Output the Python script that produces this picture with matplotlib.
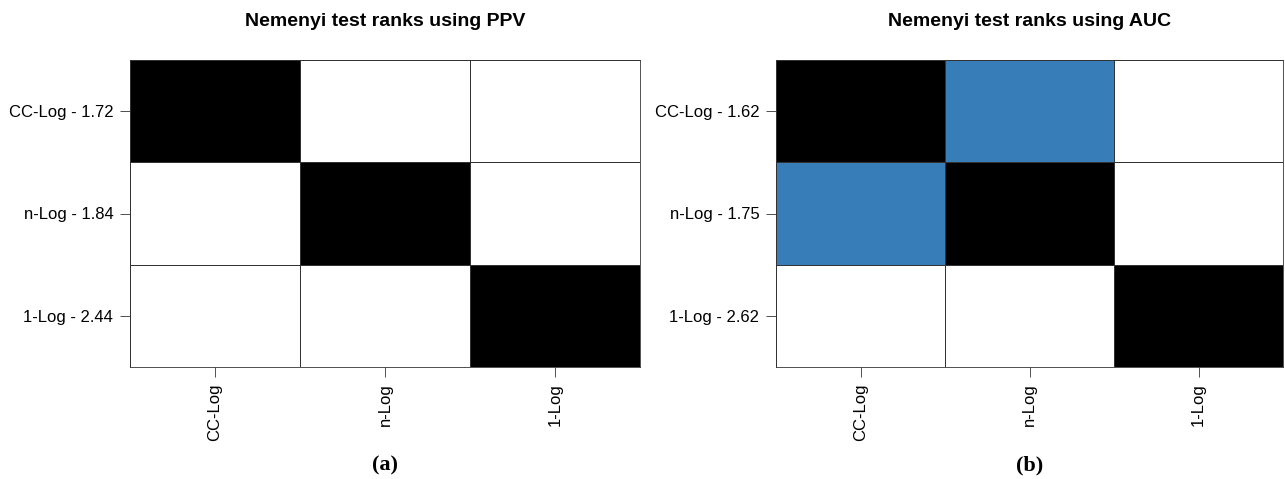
import numpy as np
import matplotlib.pyplot as plt
from matplotlib.colors import ListedColormap

# methods ordered by mean rank (top to bottom / left to right)
metodos = ["CC-Log", "n-Log", "1-Log"]
ranks_ppv = [1.72, 1.84, 2.44]
ranks_auc = [1.62, 1.75, 2.62]

# 0 = no significant difference, 1 = significant, 2 = same method
sig_ppv = np.array([[2, 0, 0],
                    [0, 2, 0],
                    [0, 0, 2]])
sig_auc = np.array([[2, 1, 0],
                    [1, 2, 0],
                    [0, 0, 2]])

titulos = ["Nemenyi test ranks using PPV", "Nemenyi test ranks using AUC"]
letras = ["(a)", "(b)"]

plt.rcParams['font.family'] = ['Liberation Sans', 'DejaVu Sans']
cmap = ListedColormap(["white", "#377EB8", "black"])

fig = plt.figure(figsize=(12.85, 4.79), dpi=100)
posiciones = [[130/1285, 1-367/479, 510/1285, 307/479],
              [776/1285, 1-367/479, 507/1285, 307/479]]

for pos, matriz, ranks, titulo, letra in zip(posiciones, [sig_ppv, sig_auc],
                                             [ranks_ppv, ranks_auc], titulos, letras):
    ax = fig.add_axes(pos)
    ax.pcolormesh(matriz, cmap=cmap, vmin=0, vmax=2,
                  edgecolors="#333333", linewidth=0.6)
    ax.set_xlim(0, 3)
    ax.set_ylim(3, 0)
    ax.set_xticks(np.arange(3) + 0.5)
    ax.set_xticklabels(metodos, rotation=90, fontsize=12)
    ax.set_yticks(np.arange(3) + 0.5)
    ax.set_yticklabels([f"{m} - {r:.2f}" for m, r in zip(metodos, ranks)], fontsize=12)
    ax.tick_params(length=7, width=0.6, color="#333333", pad=5)
    for s in ax.spines.values():
        s.set_linewidth(0.6)
        s.set_color("#333333")
    cx = pos[0] + pos[2] / 2
    fig.text(cx, 1 - 21/479, titulo, ha="center", va="center",
             fontsize=14, fontweight="bold")
    fig.text(cx, 1 - 465/479, letra, ha="center", va="center",
             fontsize=16, fontweight="bold", family="Liberation Serif")

fig.savefig("out.png", dpi=100)
